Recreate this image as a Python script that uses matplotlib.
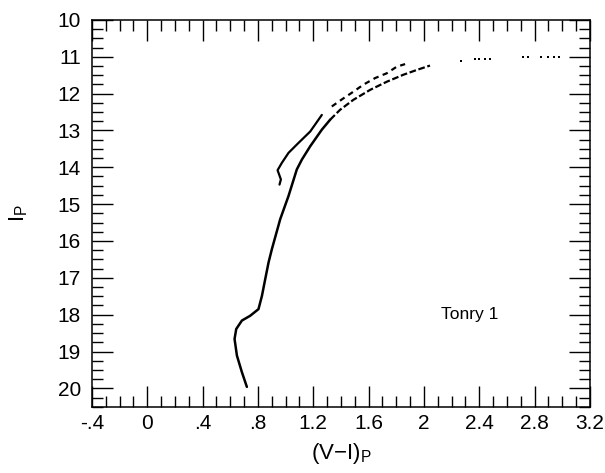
import numpy as np
import matplotlib.pyplot as plt
from matplotlib.ticker import MultipleLocator

plt.rcParams['font.family'] = ['Liberation Sans', 'DejaVu Sans']

# lower (main) branch, solid part, from the bottom of the sequence up
main_x = [0.720, 0.684, 0.648, 0.631, 0.643, 0.684, 0.744, 0.804, 0.829, 0.853,
          0.877, 0.901, 0.961, 1.021, 1.081, 1.118, 1.178, 1.262, 1.322]
main_y = [19.96, 19.56, 19.11, 18.66, 18.39, 18.16, 18.03, 17.85, 17.49, 17.03,
          16.58, 16.22, 15.41, 14.78, 14.06, 13.79, 13.43, 12.98, 12.71]
# lower branch, broken part
main_dash_x = [1.322, 1.394, 1.490, 1.611, 1.731, 1.851, 1.948, 2.044]
main_dash_y = [12.71, 12.44, 12.17, 11.90, 11.68, 11.49, 11.36, 11.24]
# sparse tail
tail_x = [2.27, 2.37, 2.40, 2.44, 2.48, 2.72, 2.75, 2.85, 2.90, 2.94, 2.98]
tail_y = [11.11, 11.07, 11.06, 11.06, 11.05, 11.02, 11.02, 11.02, 11.02, 11.02, 11.02]

# upper branch
up_x = [0.956, 0.966, 0.942, 0.973, 1.021, 1.093, 1.178, 1.262]
up_y = [14.47, 14.33, 14.08, 13.88, 13.61, 13.34, 13.03, 12.58]
up_dash_x = [1.334, 1.418, 1.490, 1.562, 1.647, 1.731, 1.804, 1.864]
up_dash_y = [12.35, 12.13, 11.95, 11.76, 11.58, 11.45, 11.27, 11.20]

xticks = [-0.4, 0, 0.4, 0.8, 1.2, 1.6, 2.0, 2.4, 2.8, 3.2]
xticklabels = ['-.4', '0', '.4', '.8', '1.2', '1.6', '2', '2.4', '2.8', '3.2']
yticks = list(range(10, 21))

fig = plt.figure(figsize=(6.05, 4.73), dpi=100)
ax = fig.add_axes([0.152, 0.140, 0.823, 0.818])

ax.plot(main_x, main_y, color='black', lw=1.8, solid_capstyle='round')
ax.plot(main_dash_x, main_dash_y, color='black', lw=1.6, dashes=(3, 1.2))
ax.plot(tail_x, tail_y, 's', color='black', ms=1.7, mew=0)
ax.plot(up_x, up_y, color='black', lw=1.6, solid_capstyle='round')
ax.plot(up_dash_x, up_dash_y, color='black', lw=1.6, dashes=(2.5, 2))

ax.text(2.33, 18.0, 'Tonry 1', ha='center', va='center', fontsize=12.5)

ax.set_xlim(-0.4, 3.2)
ax.set_ylim(20.5, 10)
ax.set_xticks(xticks)
ax.set_xticklabels(xticklabels)
ax.set_yticks(yticks)
ax.xaxis.set_minor_locator(MultipleLocator(0.1))
ax.yaxis.set_minor_locator(MultipleLocator(0.25))
ax.tick_params(which='both', direction='in', top=True, right=True, width=1.0)
ax.tick_params(which='major', length=15, labelsize=15)
ax.tick_params(axis='x', which='major', pad=5)
ax.tick_params(axis='y', which='major', pad=8)
ax.tick_params(which='minor', length=8)
for s in ax.spines.values():
    s.set_linewidth(1.1)

ax.set_xlabel(r'$\mathregular{(V{-}I)_P}$', fontsize=16, labelpad=6)
ax.set_ylabel(r'$\mathregular{I_P}$', fontsize=16, labelpad=20)

fig.savefig('out.png', dpi=100)
